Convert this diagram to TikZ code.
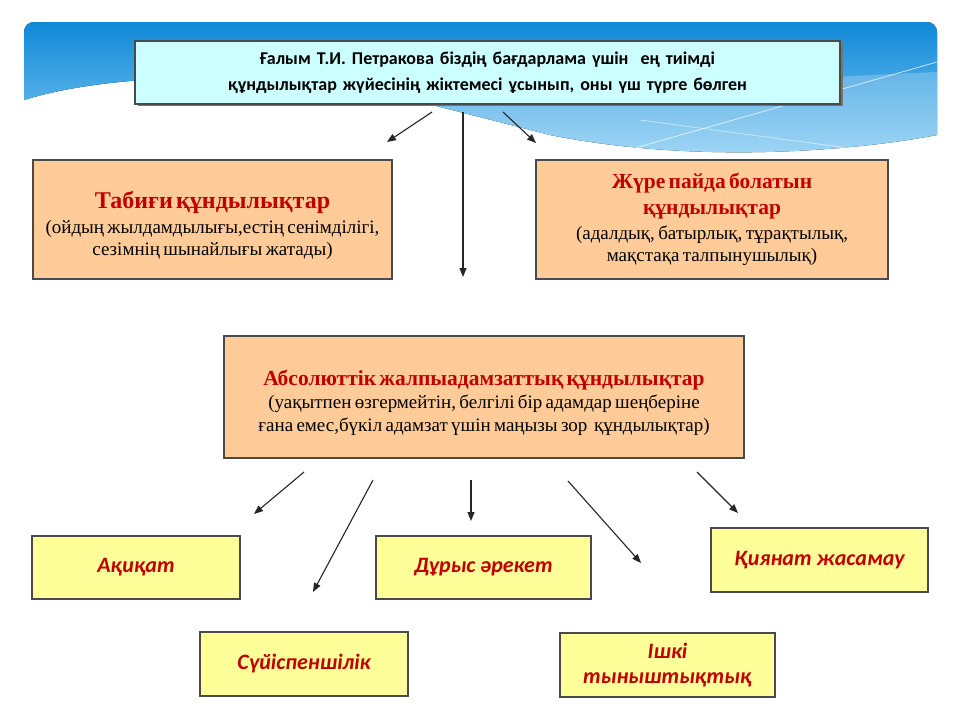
\documentclass[tikz,border=0pt]{standalone}
\usepackage{fontspec}
\setmainfont{Liberation Serif}
\newfontfamily\calfont{Carlito}
\usetikzlibrary{arrows.meta}
\definecolor{skyA}{HTML}{1089D8}
\definecolor{skyB}{HTML}{8CCFF4}
\definecolor{cyanbox}{HTML}{CCFFFF}
\definecolor{peach}{HTML}{FFCC99}
\definecolor{lemon}{HTML}{FFFF99}
\definecolor{redtxt}{HTML}{C00000}
\definecolor{frame}{HTML}{4A4A4A}
\tikzset{
  titlebox/.style={draw=frame,line width=1.5pt,fill=cyanbox,minimum width=705pt,minimum height=63pt,align=center,text width=700pt,inner sep=0pt},
  peachbox/.style={draw=frame,line width=1.6pt,fill=peach,align=center,inner sep=0pt},
  lemonbox/.style={draw=frame,line width=1.4pt,fill=lemon,align=center,inner sep=0pt,
     font=\calfont\bfseries\itshape\fontsize{22}{26}\selectfont,text=redtxt},
  arr/.style={draw=black!85,line width=1.1pt,-{Triangle[length=9pt,width=7pt]}},
}
\begin{document}
\begin{tikzpicture}[x=1pt,y=-1pt]
\useasboundingbox (0,0) rectangle (960,720);
\fill[white] (0,0) rectangle (960,720);
% blue banner
\fill[top color=skyA,bottom color=skyB]
  (24,100) [rounded corners=10pt] -- (24,22) -- (937,22) [sharp corners] -- (937,135)
  .. controls (860,150) and (700,165) .. (550,135)
  -- (413,100) .. controls (300,70) and (120,70) .. (24,100) -- cycle;
\fill[white,opacity=0.22] (413,100) .. controls (600,90) and (800,78) .. (937,72)
  -- (937,135) .. controls (860,150) and (700,165) .. (550,135) -- cycle;
\draw[white,opacity=0.7,line width=0.8pt] (600,158) -- (937,62);
\draw[white,opacity=0.5,line width=0.8pt] (640,120) -- (937,160);
% shadow of title box
\fill[black!55] (138,43) rectangle (843,106);
% nodes
\node[titlebox,font=\calfont\bfseries\fontsize{18}{26}\selectfont] (t) at (487.5,72.5)
  {Ғалым Т.И. Петракова біздің бағдарлама үшін\ \ ең тиімді\\құндылықтар жүйесінің жіктемесі ұсынып, оны үш түрге бөлген};
\node[peachbox,minimum width=359pt,minimum height=119pt,text width=355pt] (l) at (212.5,219.5)
  {{\fontsize{24}{24}\selectfont\bfseries\color{redtxt}\rule{0pt}{30pt}Табиғи құндылықтар\par}\vspace{3pt}
   {\fontsize{19}{22}\selectfont(ойдың жылдамдылығы,естің сенімділігі,\\сезімнің шынайлығы жатады)\par}};
\node[peachbox,minimum width=352pt,minimum height=119pt,text width=348pt] (r) at (712,219.5)
  {{\fontsize{21.5}{26}\selectfont\bfseries\color{redtxt}Жүре пайда болатын\\құндылықтар\par}\vspace{3pt}
   {\fontsize{19}{22}\selectfont(адалдық, батырлық, тұрақтылық,\\мақстақа талпынушылық)\par}};
\node[peachbox,minimum width=520pt,minimum height=122pt,text width=516pt] (c) at (484,397)
  {{\fontsize{21.5}{22}\selectfont\bfseries\color{redtxt}\rule{0pt}{27pt}Абсолюттік жалпыадамзаттық құндылықтар\par}\vspace{0pt}
   {\fontsize{19}{23}\selectfont(уақытпен өзгермейтін, белгілі бір адамдар шеңберіне\\ғана емес,бүкіл адамзат үшін маңызы зор\ \ құндылықтар)\par}};
\node[lemonbox,minimum width=208pt,minimum height=63pt] (y1) at (136,567.5) {Ақиқат};
\node[lemonbox,minimum width=215pt,minimum height=63pt] (y2) at (483.5,567.5) {Дұрыс әрекет};
\node[lemonbox,minimum width=217pt,minimum height=64pt] (y3) at (819.5,560) {Қиянат жасамау};
\node[lemonbox,minimum width=208pt,minimum height=64pt] (y4) at (304,664) {Сүйіспеншілік};
\node[lemonbox,minimum width=215pt,minimum height=64pt,text width=210pt,font=\calfont\bfseries\itshape\fontsize{22}{25}\selectfont] (y5) at (667.5,665) {Ішкі\\тыныштықтық};
% arrow end points
\coordinate (a1s) at (432,112); \coordinate (a1e) at (387,142);
\coordinate (a2s) at (463,112); \coordinate (a2e) at (463,277);
\coordinate (a3s) at (503,112); \coordinate (a3e) at (536,143);
\coordinate (b1s) at (304,472); \coordinate (b1e) at (254,514);
\coordinate (b2s) at (373,480); \coordinate (b2e) at (313,592);
\coordinate (b3s) at (471,480); \coordinate (b3e) at (471,521);
\coordinate (b4s) at (568,481); \coordinate (b4e) at (641,563);
\coordinate (b5s) at (697,472); \coordinate (b5e) at (738,513);
\draw[arr] (a1s) -- (a1e);
\draw[arr] (a2s) -- (a2e);
\draw[arr] (a3s) -- (a3e);
\draw[arr] (b1s) -- (b1e);
\draw[arr] (b2s) -- (b2e);
\draw[arr] (b3s) -- (b3e);
\draw[arr] (b4s) -- (b4e);
\draw[arr] (b5s) -- (b5e);
\end{tikzpicture}
\end{document}
